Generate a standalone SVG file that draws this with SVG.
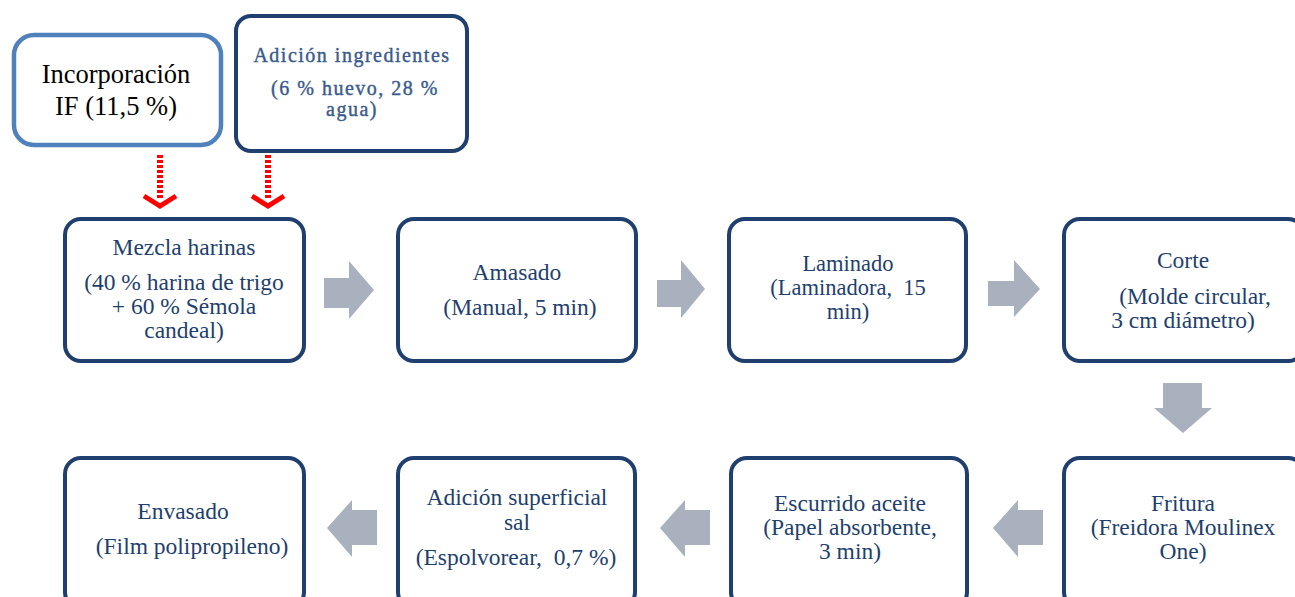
<svg xmlns="http://www.w3.org/2000/svg" width="1295" height="597" viewBox="0 0 1295 597">
<style>
.box{fill:#fff;stroke:#1F3F6E;stroke-width:4}
.t{font-family:'Liberation Serif','DejaVu Serif',serif;font-size:23.5px;fill:#1F3F6E;text-anchor:middle}
.s{font-size:22.5px}
.a{font-family:'Liberation Serif','DejaVu Serif',serif;font-size:20px;fill:#3A5A8C;text-anchor:middle;letter-spacing:1.5px;stroke:#3A5A8C;stroke-width:0.4}
.k{font-family:'Liberation Serif','DejaVu Serif',serif;font-size:26.5px;fill:#000;text-anchor:middle}
.blk{fill:#A9B0BE}
.red{stroke:#F00;stroke-width:6;stroke-dasharray:3,2;fill:none}
.chev{fill:none;stroke:#F00;stroke-width:5}
</style>
<rect width="1295" height="597" fill="#fff"/>
<g id="incorporacion">
<rect x="14" y="35" width="207" height="110" rx="20" fill="#fff" stroke="#4F81BD" stroke-width="4.5"/>
<text x="116" y="83" class="k">Incorporación</text>
<text x="116" y="115" class="k">IF (11,5 %)</text>
</g>
<g id="adicion-ingredientes">
<rect x="236" y="16" width="231" height="135" rx="15" class="box"/>
<text x="352" y="62" class="a">Adición ingredientes</text>
<text x="355" y="95" class="a">(6 % huevo, 28 %</text>
<text x="352" y="116" class="a">agua)</text>
</g>
<g id="mezcla">
<rect x="65" y="219" width="239" height="142" rx="16" class="box"/>
<text x="184" y="255" class="t">Mezcla harinas</text>
<text x="184" y="290" class="t">(40 % harina de trigo</text>
<text x="184" y="314" class="t">+ 60 % Sémola</text>
<text x="184" y="338" class="t">candeal)</text>
</g>
<g id="amasado">
<rect x="398" y="219" width="238" height="142" rx="16" class="box"/>
<text x="517" y="280" class="t">Amasado</text>
<text x="520" y="315" class="t">(Manual, 5 min)</text>
</g>
<g id="laminado">
<rect x="729" y="219" width="237" height="142" rx="16" class="box"/>
<text x="848" y="271" class="t s">Laminado</text>
<text x="848" y="295" class="t s" xml:space="preserve">(Laminadora,  15</text>
<text x="848" y="319" class="t s">min)</text>
</g>
<g id="corte">
<rect x="1064" y="219" width="240" height="142" rx="16" class="box"/>
<text x="1183" y="268" class="t">Corte</text>
<text x="1195" y="304" class="t">(Molde circular,</text>
<text x="1183" y="328" class="t">3 cm diámetro)</text>
</g>
<g id="fritura">
<rect x="1064" y="458" width="240" height="150" rx="16" class="box"/>
<text x="1183" y="511" class="t">Fritura</text>
<text x="1183" y="535" class="t">(Freidora Moulinex</text>
<text x="1183" y="559" class="t">One)</text>
</g>
<g id="escurrido">
<rect x="731" y="458" width="236" height="150" rx="16" class="box"/>
<text x="850" y="511" class="t">Escurrido aceite</text>
<text x="850" y="535" class="t">(Papel absorbente,</text>
<text x="850" y="559" class="t">3 min)</text>
</g>
<g id="adicion-sal">
<rect x="398" y="458" width="237" height="150" rx="16" class="box"/>
<text x="517" y="505" class="t">Adición superficial</text>
<text x="517" y="530" class="t">sal</text>
<text x="516" y="565" class="t" xml:space="preserve">(Espolvorear,  0,7 %)</text>
</g>
<g id="envasado">
<rect x="65" y="458" width="239" height="150" rx="16" class="box"/>
<text x="183" y="519" class="t">Envasado</text>
<text x="192" y="554" class="t">(Film polipropileno)</text>
</g>
<g id="connectors">
<line x1="160" y1="155" x2="160" y2="198" class="red"/>
<polyline points="144,196 160,206 176,196" class="chev"/>
<line x1="268" y1="155" x2="268" y2="198" class="red"/>
<polyline points="252,196 268,206 284,196" class="chev"/>
<polygon class="blk" points="324,278 349,278 349,261 374,290 349,319 349,308 324,308"/>
<polygon class="blk" points="657,280 681,280 681,260 705,289 681,318 681,307 657,307"/>
<polygon class="blk" points="988,281 1014,281 1014,260 1040,289 1014,317 1014,306 988,306"/>
<polygon class="blk" points="1163,383 1202,383 1202,408 1212,408 1183,433 1154,408 1163,408"/>
<polygon class="blk" points="1043,510 1018,510 1018,500 993,528 1018,557 1018,545 1043,545"/>
<polygon class="blk" points="710,510 685,510 685,500 660,528 685,557 685,545 710,545"/>
<polygon class="blk" points="377,510 352,510 352,500 327,528 352,557 352,545 377,545"/>
</g>
</svg>
